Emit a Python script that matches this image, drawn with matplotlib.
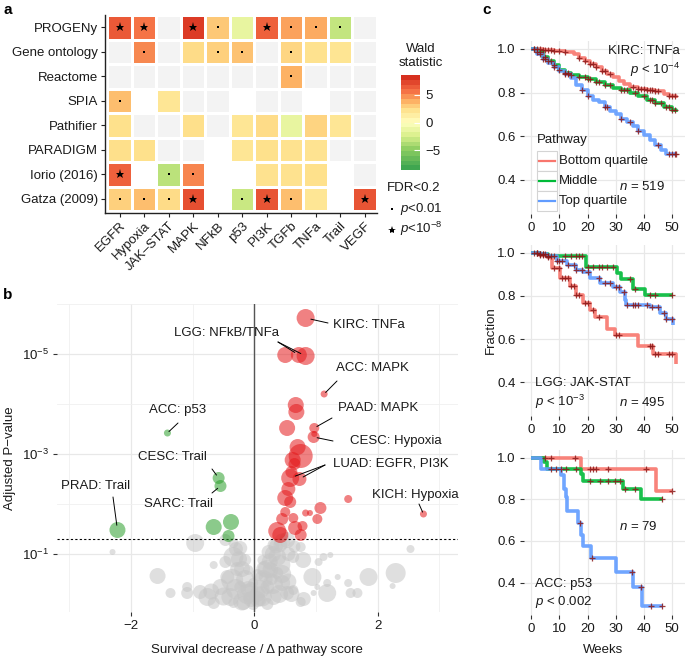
import numpy as np
import matplotlib
matplotlib.use('Agg')
import matplotlib.pyplot as plt
from matplotlib.colors import LinearSegmentedColormap, ListedColormap, Normalize
from matplotlib.ticker import FixedLocator, NullFormatter
from matplotlib.patches import Rectangle
import matplotlib.colorbar as mcolorbar

plt.rcParams['font.family'] = ['Liberation Sans', 'DejaVu Sans']
plt.rcParams['mathtext.fontset'] = 'custom'
plt.rcParams['mathtext.rm'] = 'Liberation Sans'
plt.rcParams['mathtext.it'] = 'Liberation Sans:italic'
plt.rcParams['mathtext.bf'] = 'Liberation Sans:bold'

W, H = 685, 657
nan = np.nan

# ---------------- data: panel a ----------------
methods = ['PROGENy', 'Gene ontology', 'Reactome', 'SPIA', 'Pathifier',
           'PARADIGM', 'Iorio (2016)', 'Gatza (2009)']
pathways = ['EGFR', 'Hypoxia', 'JAK–STAT', 'MAPK', 'NFkB', 'p53', 'PI3K',
            'TGFb', 'TNFa', 'Trail', 'VEGF']
wald = [
    [6.8, 5.8, 0, 8.0, 3.3, -1.5, 6.5, 4.5, 4.2, -3.2, 0],
    [0, 5.2, 0, 2.6, 3.0, 3.5, 0, 2.8, 2.3, 2.1, 0],
    [0, 0, 0, 0, 0, 0, 0, 4.0, 0, 0, 0],
    [3.6, nan, 2.0, 0, 0, nan, 0, 0, nan, 0, 0],
    [2.4, 0, 0, 2.5, 0, 2.0, 2.6, -1.5, 2.9, 2.0, 0],
    [2.5, 2.4, 0, 0, nan, 2.0, 2.4, 2.3, 2.2, 0, 0],
    [6.5, nan, -3.5, 5.3, nan, nan, 2.3, 2.3, 2.4, nan, 0],
    [3.0, 3.6, 2.6, 7.2, nan, -3.0, 7.0, 3.6, 2.0, nan, 7.0],
]
# 0 = not significant, 1 = FDR<0.2, 2 = p<0.01, 3 = p<1e-8
signif = [
    [3, 3, 0, 3, 2, 1, 3, 2, 2, 2, 0],
    [0, 2, 0, 1, 2, 2, 0, 2, 1, 1, 0],
    [0, 0, 0, 0, 0, 0, 0, 2, 0, 0, 0],
    [2, 0, 1, 0, 0, 0, 0, 0, 0, 0, 0],
    [1, 0, 0, 1, 0, 1, 1, 1, 1, 1, 0],
    [1, 1, 0, 0, 0, 1, 1, 1, 1, 0, 0],
    [3, 0, 2, 2, 0, 0, 1, 1, 1, 0, 0],
    [2, 2, 2, 3, 0, 2, 3, 2, 1, 0, 3],
]

# ---------------- data: panel b ----------------
red_x = [0.83, 0.72, 0.83, 1.13, 0.97, 0.96, 0.58, 0.73, 2.74, 0.50,
         0.67, 0.68, 0.53, 0.97, 0.70, 0.75, 0.62, 0.65, 0.50, 0.58,
         0.50, 0.63, 0.83, 1.07, 1.02, 0.66, 0.37, 0.42, 0.75, 0.78,
         1.52, 0.90, 0.45, 0.60, 0.55]
red_nlp = [5.72, 4.98, 4.96, 4.20, 3.52, 3.34, 2.52, 2.50, 1.80, 4.98,
           3.98, 3.84, 3.52, 3.40, 3.14, 2.96, 2.88, 2.80, 2.12, 2.04,
           1.84, 1.72, 1.82, 1.92, 1.70, 1.52, 1.46, 1.38, 1.38, 1.56,
           2.10, 1.82, 1.70, 2.64, 2.30]
red_r = [9, 8, 9, 3.5, 5, 6, 9, 7, 3.5, 8,
         8, 8, 8, 3, 8, 12, 8, 6, 8, 6,
         5, 5, 3.5, 6, 5, 7, 9, 8, 6, 5,
         4, 3, 6, 6, 7]

green_x = [-1.41, -0.58, -0.55, -2.22, -0.66, -0.38, -0.42]
green_nlp = [3.42, 2.52, 2.36, 1.48, 1.54, 1.64, 1.36]
green_r = [3.5, 6, 6, 8, 8, 8, 6]

gray_x = [-2.30, -0.96, -1.57, -1.36, -1.09, -0.88, -0.66, -0.34, -0.44, -0.55,
          -0.39, -0.18, -0.23, -0.10, -0.34, 0.10, 0.21, 0.26, 0.37, 0.42,
          0.53, 0.63, 0.75, 0.63, 0.75, 0.79, 0.94, 1.04, 1.12, 1.23,
          1.02, 1.18, 1.18, 0.96, 1.35, 1.52, 1.56, 1.67, 1.85, 2.24,
          2.29, 2.53, 0.37, 0.45, 0.53, 0.31, 0.21, -0.02, -0.11, -0.34,
          -0.66, -0.76, -1.09, -0.47, -0.02, 0.15, 0.05, 0.13, 0.23, 0.31,
          -0.15, -0.23, -0.47, 0.42, -0.36, 0.05, -0.05, 0.16, 0.28, -0.28,
          -0.05, -0.10, -0.15, -0.20, -0.25, -0.30, -0.12, -0.30, -0.50, -0.70,
          -0.20, 0.05, 0.10, 0.15, 0.20, 0.25, 0.30, 0.35, 0.45, 0.12,
          0.30, 0.45, 0.55, 0.40, 0.60, 0.80, 0.55, 0.65]
gray_nlp = [1.04, 1.22, 0.56, 0.22, 0.22, 0.24, 0.78, 0.94, 0.54, 0.34,
            0.14, 0.02, 0.34, 0.68, 1.22, 0.08, 0.34, 0.68, 0.94, 1.18,
            1.28, 0.94, 1.14, 0.28, 0.04, 0.88, 0.54, 0.84, 0.94, 0.98,
            0.34, 0.42, 0.22, 0.22, 0.54, 0.42, 0.22, 0.22, 0.54, 0.36,
            0.62, 1.10, 0.62, 0.42, 0.22, 0.14, 0.0, 0.0, 0.14, 0.02,
            0.02, 0.14, 0.34, 0.84, 0.42, 0.54, 0.58, 0.88, 1.04, 1.18,
            0.88, 1.12, 1.28, 0.78, 0.48, 0.20, 0.30, 0.70, 0.50, 0.70,
            0.10, 0.30, 0.50, 0.70, 0.90, 1.10, 0.20, 0.30, 0.15, 0.25,
            0.05, 0.10, 0.30, 0.50, 0.70, 0.85, 1.00, 1.15, 1.25, 0.15,
            0.40, 0.60, 0.45, 0.20, 0.20, 0.10, 1.00, 1.15]
gray_r = [3, 9, 8, 5, 6, 7, 4, 10, 7, 8,
          9, 7, 6, 5, 5, 6, 7, 8, 9, 7,
          8, 6, 5, 5, 5, 8, 9, 4, 4, 3,
          3, 4, 9, 3, 3, 4, 5, 5, 9, 3,
          10, 4, 6, 8, 7, 8, 6, 6, 5, 5,
          6, 9, 5, 6, 5, 5, 6, 5, 7, 6,
          6, 7, 6, 10, 11, 8, 7, 8, 6, 7,
          8, 8, 9, 8, 8, 7, 10, 10, 9, 8,
          9, 8, 9, 9, 9, 8, 8, 7, 8, 10,
          10, 9, 8, 9, 8, 7, 7, 6]

# ---------------- data: panel c ----------------
groups = ['Bottom quartile', 'Middle', 'Top quartile']
kirc_t = [[0, 4, 8, 12, 15, 17, 19, 21, 23, 25, 27, 29, 31, 33, 35, 38, 41, 44, 47, 49, 51.5],
          [0, 2, 4, 6, 8, 10, 12, 14, 17, 20, 23, 26, 29, 32, 35, 38, 41, 44, 47, 50, 51.5],
          [0, 2, 4, 6, 8, 10, 12, 14, 16, 18, 20, 22, 24, 26, 28, 30, 32, 34, 36, 38, 40, 42, 44, 46, 48, 51.5]]
kirc_s = [[1, 0.995, 0.99, 0.985, 0.975, 0.96, 0.945, 0.93, 0.915, 0.90, 0.885, 0.87, 0.855, 0.84, 0.825, 0.815, 0.81, 0.805, 0.795, 0.785, 0.775],
          [1, 0.985, 0.965, 0.945, 0.925, 0.905, 0.89, 0.88, 0.87, 0.86, 0.85, 0.835, 0.82, 0.81, 0.80, 0.785, 0.765, 0.75, 0.735, 0.72, 0.713],
          [1, 0.975, 0.955, 0.935, 0.915, 0.90, 0.885, 0.865, 0.835, 0.81, 0.785, 0.765, 0.755, 0.735, 0.715, 0.70, 0.68, 0.665, 0.645, 0.625, 0.605, 0.585, 0.56, 0.535, 0.52, 0.52]]
kirc_c = [[1, 2, 3, 4, 5, 6, 7, 8, 10, 12, 17, 19, 21, 22, 23, 25, 26, 28, 36, 38, 39, 40, 41, 42, 43, 44, 45, 49, 50, 51],
          [2, 3, 5, 6, 7, 8, 10, 12, 13, 14, 17, 19, 20, 21, 23, 24, 26, 28, 32, 33, 34, 37, 40, 42, 43, 44, 46, 48, 49, 50, 51],
          [1, 3, 4, 5, 8, 12, 13, 18, 20, 26, 27, 32, 35, 38, 45, 49, 50, 51, 51.5]]

lgg_t = [[0, 3, 5.5, 7.3, 10.3, 13.8, 16, 18.5, 21, 22.6, 26.8, 29.7, 37.9, 43.3, 51.5],
         [0, 3, 6, 19.5, 30.5, 32, 36, 40.5, 50.5],
         [0, 3, 5.5, 9, 12.6, 16, 18.5, 21, 24.4, 29, 31.5, 33.2, 33.8, 42, 45.6, 48, 50.4]]
lgg_s = [[1, 0.99, 0.98, 0.93, 0.883, 0.844, 0.805, 0.766, 0.734, 0.703, 0.648, 0.617, 0.57, 0.53, 0.484],
         [1, 0.995, 0.985, 0.934, 0.906, 0.88, 0.833, 0.805, 0.805],
         [1, 0.995, 0.985, 0.96, 0.945, 0.92, 0.91, 0.883, 0.86, 0.84, 0.82, 0.78, 0.76, 0.75, 0.72, 0.695, 0.665]]
lgg_c = [[2, 3, 4, 6, 8, 10, 11, 12, 13, 14, 15, 16, 17, 19, 20, 22, 24, 30, 31, 42, 43, 44, 45, 49, 50],
         [1, 2, 3, 4, 6, 8, 12, 14, 16, 17, 18, 20, 22, 24, 25, 27, 29, 35, 37, 42, 44, 50],
         [2, 3, 4, 5, 6, 7, 9, 10, 11, 13, 15, 16, 18, 20, 24, 26, 28, 30, 31, 33, 34, 36, 37, 38, 41, 43, 45, 47, 48, 50]]

acc_t = [[0, 17.8, 44.4, 50],
         [0, 4.5, 5.7, 17.8, 18.5, 32.6, 39.1, 46.8],
         [0, 3.6, 10.7, 11.6, 12.4, 12.8, 16.6, 17.5, 18.4, 21.3, 30.2, 36.1, 39.3, 46.8]]
acc_s = [[1, 0.943, 0.84, 0.84],
         [1, 0.979, 0.946, 0.922, 0.889, 0.849, 0.80, 0.80],
         [1, 0.946, 0.914, 0.85, 0.81, 0.743, 0.686, 0.63, 0.577, 0.519, 0.45, 0.377, 0.285, 0.285]]
acc_c = [[4.7, 6.9, 15.4, 20.7, 21.9, 23.1, 27.3, 40.9, 50],
         [7.1, 8.9, 10.7, 12.4, 16, 20.7, 24.3, 27.3, 29.6, 31.4, 33.4, 36.7, 46.4],
         [17.3, 21.7, 35.8, 39, 42.4, 46.4]]

# ---------------- figure ----------------
fig = plt.figure(figsize=(W / 100, H / 100), dpi=100)


def add_ax(l, t, r, b):
    return fig.add_axes([l / W, 1 - b / H, (r - l) / W, (b - t) / H])


def ftext(px, py, s, **kw):
    fig.text(px / W, 1 - py / H, s, **kw)


FS = 9.5
TXT = '#1a1a1a'

# ---------- panel a: heatmap ----------
cmap = LinearSegmentedColormap.from_list(
    'wald', [(0.0, '#3fa650'), (3.5 / 17, '#8fce62'), (6 / 17, '#d9ef8b'),
             (0.5, '#ffffbf'), (11 / 17, '#fee08b'), (12.5 / 17, '#fdb365'),
             (14.5 / 17, '#f46d43'), (1.0, '#d7301f')])
norm = Normalize(-8.5, 8.5)
wv = np.array(wald, dtype=float)
sg = np.array(signif)
nr, nc = wv.shape
xe = np.arange(nc + 1) - 0.5
ye = np.arange(nr + 1) - 0.5

ax_a = add_ax(105, 15, 377, 213)
codes = np.where(np.isnan(wv), 0, 1)
ax_a.pcolormesh(xe, ye, codes, cmap=ListedColormap(['white', '#f3f3f3']),
                vmin=0, vmax=1, edgecolors='white', linewidth=0.8)
colored = np.ma.masked_where((sg < 1) | np.isnan(wv), wv)
ax_a.pcolormesh(xe, ye, colored, cmap=cmap, norm=norm,
                edgecolors='white', linewidth=0.8)
for i in range(nr):
    for j in range(nc):
        if sg[i, j] == 2:
            ax_a.plot(j, i, 's', ms=1.8, color='black', mew=0)
        elif sg[i, j] == 3:
            ax_a.plot(j, i, '*', ms=6.5, color='black', mew=0)
ax_a.set_xlim(-0.6, nc - 0.5)
ax_a.set_ylim(nr - 0.42, -0.5)
ax_a.set_xticks(range(nc))
ax_a.set_xticklabels(pathways, rotation=45, ha='right', va='top',
                     rotation_mode='anchor', fontsize=FS, color=TXT)
ax_a.set_yticks(range(nr))
ax_a.set_yticklabels(methods, fontsize=FS, color=TXT)
for sp in ['top', 'right']:
    ax_a.spines[sp].set_visible(False)
for sp in ['left', 'bottom']:
    ax_a.spines[sp].set_linewidth(1.0)
    ax_a.spines[sp].set_color('#222222')
ax_a.tick_params(length=3, width=0.8, color='#222222', pad=2)

# colorbar
cax = add_ax(401, 75, 420, 170)
cb = mcolorbar.ColorbarBase(cax, cmap=cmap.resampled(20), norm=norm,
                            orientation='vertical')
cb.outline.set_visible(False)
cb.set_ticks([-5, 0, 5])
cb.set_ticklabels(['−5', '0', '5'])
cax.tick_params(direction='in', color='white', length=4, width=0.8,
                labelsize=FS, pad=4, labelcolor=TXT)
ftext(421, 56, 'Wald\nstatistic', ha='center', va='center', fontsize=FS,
      color=TXT, linespacing=1.25)
ftext(387, 188, 'FDR<0.2', ha='left', va='center', fontsize=FS, color=TXT)
fig.add_artist(plt.Line2D([392 / W], [1 - 209 / H], marker='s', ms=1.8,
                          color='black', mew=0, transform=fig.transFigure))
ftext(400, 209, r'$p$<0.01', ha='left', va='center', fontsize=FS, color=TXT)
fig.add_artist(plt.Line2D([392 / W], [1 - 230 / H], marker='*', ms=6.0,
                          color='black', mew=0, transform=fig.transFigure))
ftext(400, 229, r'$p$<10$^{-8}$', ha='left', va='center', fontsize=FS, color=TXT)

# ---------- panel b: volcano ----------
ax_b = add_ax(57, 304, 458, 612)
ax_b.set_yscale('log')
for sp in ax_b.spines.values():
    sp.set_visible(False)
ax_b.set_xlim(-3.2, 3.3)
ax_b.set_ylim(10 ** 0.16, 1e-6)
ax_b.set_xticks([-2, 0, 2])
ax_b.set_xticklabels(['−2', '0', '2'])
ax_b.xaxis.set_minor_locator(FixedLocator([-3, -1, 1, 3]))
ax_b.set_yticks([1e-5, 1e-3, 1e-1])
ax_b.set_yticklabels([r'$10^{-5}$', r'$10^{-3}$', r'$10^{-1}$'])
ax_b.yaxis.set_minor_locator(FixedLocator([1e-6, 1e-4, 1e-2]))
ax_b.yaxis.set_minor_formatter(NullFormatter())
ax_b.grid(True, which='major', color='#e8e8e8', lw=0.9)
ax_b.grid(True, which='minor', color='#f0f0f0', lw=0.6)
ax_b.set_axisbelow(True)
ax_b.tick_params(which='major', length=3, width=0.8, color='#333333',
                 labelsize=FS, labelcolor=TXT, pad=3)
ax_b.tick_params(which='minor', length=0)


def r2s(r):
    return (np.asarray(r) * 1.44) ** 2


def nlp2p(v):
    return 10.0 ** (-np.asarray(v, dtype=float))


ax_b.scatter(gray_x, nlp2p(gray_nlp), s=r2s(gray_r), color='#c6c6c6',
             alpha=0.55, linewidths=0, zorder=2)
ax_b.axvline(0, color='#555555', lw=1.0, zorder=3)
ax_b.axhline(0.05, color='black', lw=0.8, ls=(0, (2, 2)), zorder=3)
ax_b.scatter(green_x, nlp2p(green_nlp), s=r2s(green_r), color='#2ca02c',
             alpha=0.55, linewidths=0, zorder=4)
ax_b.scatter(red_x, nlp2p(red_nlp), s=r2s(red_r), color='#e41a1c',
             alpha=0.55, linewidths=0, zorder=4)

# labels: (text, text px, ha, leader start px, group, index)
annots = [
    ('KIRC: TNFa', (333, 325), 'left', [((328, 323), 'r', 0)]),
    ('LGG: NFkB/TNFa', (226, 333), 'center', [((278, 342), 'r', 1), ((278, 342), 'r', 2)]),
    ('ACC: MAPK', (336, 368), 'left', [((337, 381), 'r', 3)]),
    ('PAAD: MAPK', (338, 408), 'left', [((332, 418), 'r', 4)]),
    ('CESC: Hypoxia', (350, 441), 'left', [((333, 441), 'r', 5)]),
    ('LUAD: EGFR, PI3K', (333, 464), 'left', [((325, 465), 'r', 6), ((325, 465), 'r', 7)]),
    ('KICH: Hypoxia', (415, 495), 'center', [((419, 504), 'r', 8)]),
    ('ACC: p53', (178, 410), 'center', [((178, 423), 'g', 0)]),
    ('CESC: Trail', (172, 457), 'center', [((212, 469), 'g', 1)]),
    ('SARC: Trail', (178, 504), 'center', [((212, 493), 'g', 2)]),
    ('PRAD: Trail', (96, 486), 'center', [((113, 497), 'g', 3)]),
]
for txt, (tx, ty), ha, lines in annots:
    ax_b.annotate(txt, xy=(tx, H - ty), xycoords='figure pixels', ha=ha,
                  va='center', fontsize=FS, color=TXT, zorder=6)
    for (sx, sy), grp, idx in lines:
        if grp == 'r':
            px, py, rr = red_x[idx], red_nlp[idx], red_r[idx]
        else:
            px, py, rr = green_x[idx], green_nlp[idx], green_r[idx]
        ax_b.annotate('', xy=(px, nlp2p(py)), xycoords='data',
                      xytext=(sx, H - sy), textcoords='figure pixels',
                      arrowprops=dict(arrowstyle='-', lw=0.7, color='black',
                                      shrinkA=0, shrinkB=rr * 0.72 * 0.6),
                      zorder=6)

ftext(10, 458, 'Adjusted P−value', rotation=90, ha='center', va='center',
      fontsize=FS, color=TXT)
ftext(257, 650, 'Survival decrease / Δ pathway score', ha='center',
      va='center', fontsize=FS, color=TXT)

# ---------- panel c: KM curves ----------
colors = ['#F8766D', '#00BA38', '#619CFF']
CENS = '#8b1a1a'


def km_panel(top, bottom, ts, ss, cs):
    ax = add_ax(524, top, 685, bottom)
    for sp in ax.spines.values():
        sp.set_visible(False)
    ax.set_xlim(-2.6, 54.6)
    ax.set_ylim(0.244, 1.036)
    ax.set_xticks([0, 10, 20, 30, 40, 50])
    ax.set_yticks([0.4, 0.6, 0.8, 1.0])
    ax.set_yticklabels(['0.4', '0.6', '0.8', '1.0'])
    ax.grid(True, color='#e8e8e8', lw=0.9)
    ax.set_axisbelow(True)
    ax.tick_params(length=3, width=0.8, color='#333333', labelsize=FS,
                   labelcolor=TXT, pad=3)
    for t, s, c, col in zip(ts, ss, cs, colors):
        ax.step(t, s, where='post', color=col, lw=2.6, alpha=0.9,
                solid_capstyle='butt', zorder=3)
        t_arr = np.asarray(t)
        s_arr = np.asarray(s)
        idx = np.searchsorted(t_arr, c, side='right') - 1
        ax.plot(c, s_arr[idx], '+', color=CENS, ms=4.5, mew=0.9, alpha=0.85,
                zorder=4)
    return ax


ax_c1 = km_panel(41, 214, kirc_t, kirc_s, kirc_c)
ax_c2 = km_panel(245, 416, lgg_t, lgg_s, lgg_c)
ax_c3 = km_panel(450, 615, acc_t, acc_s, acc_c)

# legend (ggplot style keys)
ftext(537, 140, 'Pathway', ha='left', va='center', fontsize=FS, color=TXT)
for k, (lab, col) in enumerate(zip(groups, colors)):
    yc = 161 + k * 20
    fig.add_artist(Rectangle((537 / W, 1 - (yc + 10) / H), 20 / W, 20 / H,
                             transform=fig.transFigure, facecolor='white',
                             edgecolor='#d4d4d4', lw=0.8))
    fig.add_artist(plt.Line2D([539 / W, 555 / W], [1 - yc / H, 1 - yc / H],
                              color=col, lw=1.6, transform=fig.transFigure))
    ftext(559, yc, lab, ha='left', va='center', fontsize=FS, color=TXT)

ftext(680, 51, 'KIRC: TNFa', ha='right', va='center', fontsize=FS, color=TXT)
ftext(680, 70, r'$p$ < 10$^{-4}$', ha='right', va='center', fontsize=FS, color=TXT)
ftext(665, 187, r'$n$ = 519', ha='right', va='center', fontsize=FS, color=TXT)

ftext(535, 383, 'LGG: JAK-STAT', ha='left', va='center', fontsize=FS, color=TXT)
ftext(535, 402, r'$p$ < 10$^{-3}$', ha='left', va='center', fontsize=FS, color=TXT)
ftext(665, 403, r'$n$ = 495', ha='right', va='center', fontsize=FS, color=TXT)

ftext(658, 526, r'$n$ = 79', ha='right', va='center', fontsize=FS, color=TXT)
ftext(535, 584, 'ACC: p53', ha='left', va='center', fontsize=FS, color=TXT)
ftext(535, 602, r'$p$ < 0.002', ha='left', va='center', fontsize=FS, color=TXT)

ftext(491, 330, 'Fraction', rotation=90, ha='center', va='center',
      fontsize=FS, color=TXT)
ftext(603, 650, 'Weeks', ha='center', va='center', fontsize=FS, color=TXT)

# panel letters
ftext(3, 10, 'a', ha='left', va='center', fontsize=11, fontweight='bold')
ftext(3, 295, 'b', ha='left', va='center', fontsize=11, fontweight='bold')
ftext(482, 10, 'c', ha='left', va='center', fontsize=11, fontweight='bold')

fig.savefig('out.png', dpi=100)
